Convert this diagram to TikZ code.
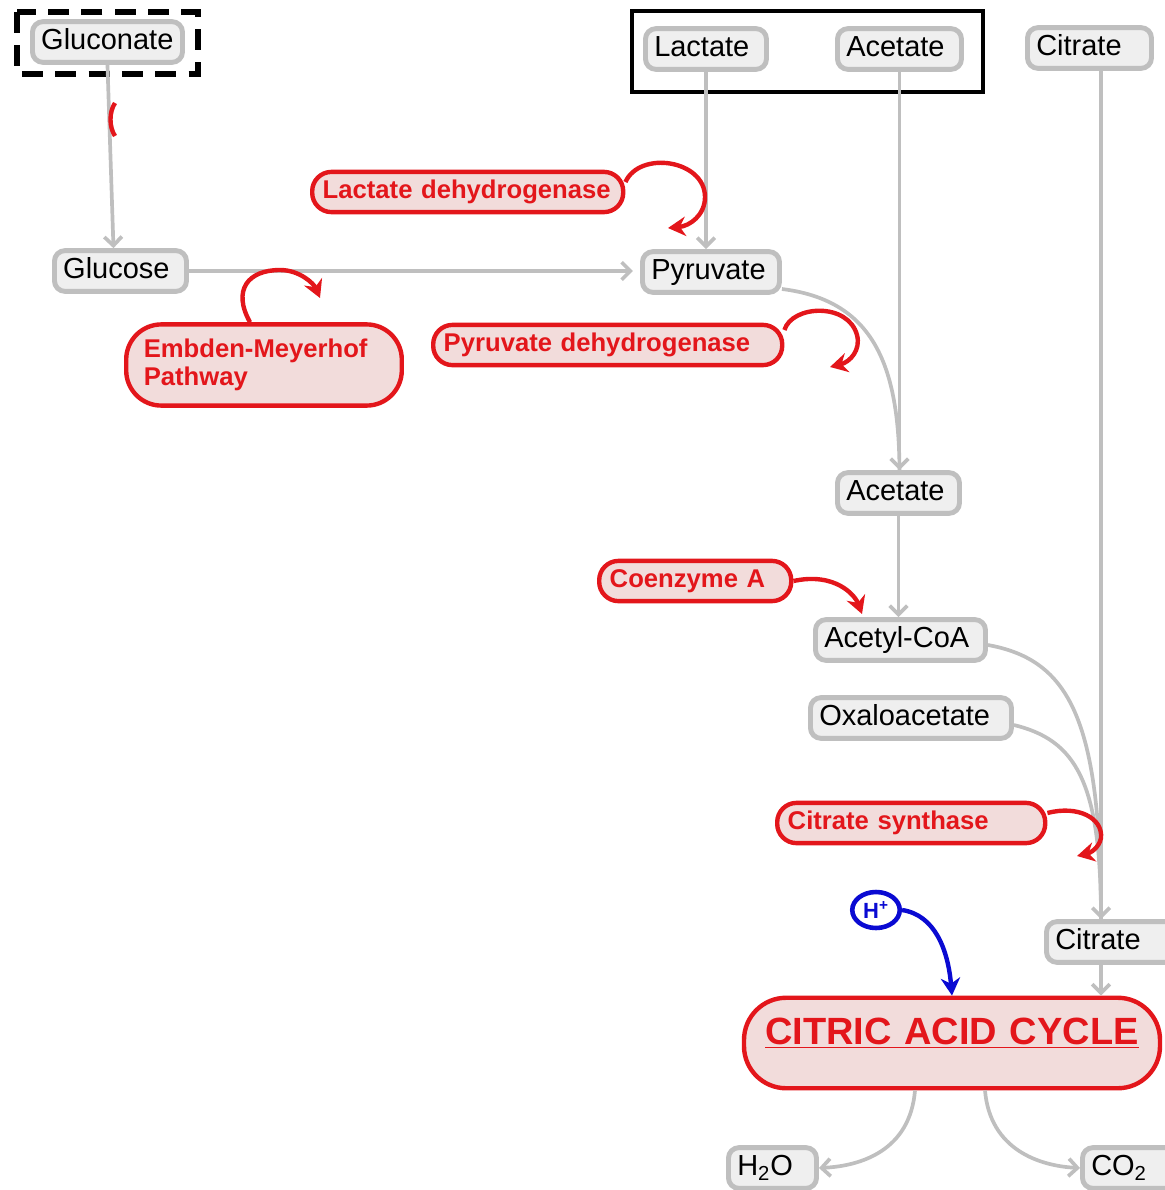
\documentclass[tikz,border=0pt]{standalone}
\usepackage{fontspec}
\setmainfont{Liberation Sans}
\usetikzlibrary{arrows.meta,positioning,shapes.geometric,calc}
\definecolor{flowgray}{HTML}{BFBFBF}
\definecolor{boxfill}{HTML}{EFEFEF}
\definecolor{ember}{HTML}{E3161B}
\definecolor{blush}{HTML}{F2DCDB}
\definecolor{royal}{HTML}{0A0AD2}

\tikzset{
  metab/.style={draw=flowgray, fill=boxfill, line width=2.8pt, rounded corners=6pt,
    align=left, inner xsep=5pt, inner ysep=3.6pt, text height=12.5pt, text depth=3.5pt,
    font=\fontsize{16.5}{19}\selectfont, anchor=west},
  enzyme/.style={draw=ember, fill=blush, line width=2.5pt, rounded corners=11pt,
    align=left, inner xsep=6pt, inner ysep=4.2pt, text height=11pt, text depth=3.5pt,
    text=ember, font=\fontsize{14.6}{15.5}\selectfont\bfseries, anchor=west},
  flowline/.style={draw=flowgray, line width=2.1pt},
  flow/.style={flowline, -{Straight Barb[length=5pt,width=10pt]}},
  hook/.style={draw=ember, line width=2.5pt, -{Stealth[length=10pt,width=11pt]}},
}

\begin{document}
\begin{tikzpicture}[x=0.02cm,y=-0.02cm]
  \useasboundingbox (0,0) rectangle (1164,1190);

  % metabolites
  \node[metab, text width=2.65cm] (glcn) at (30,42) {Gluconate};
  \node[metab, text width=2.07cm] (lac) at (643,49) {Lactate};
  \node[metab, text width=2.13cm] (ac1) at (835,49) {Acetate};
  \node[metab, text width=2.13cm] (cit1) at (1025,48) {Citrate};
  \node[metab, text width=2.29cm] (glc) at (52,271) {Glucose};
  \node[metab, text width=2.39cm] (pyr) at (640,272) {Pyruvate};
  \node[metab, text width=2.09cm] (ac2) at (835,493) {Acetate};
  \node[metab, text width=3.05cm] (acoa) at (813,640) {Acetyl-CoA};
  \node[metab, text width=3.67cm] (oaa) at (808,718) {Oxaloacetate};
  \node[metab, text width=2.3cm] (cit2) at (1044,942) {Citrate};
  \node[metab, text width=1.41cm] (water) at (726,1168) {H\textsubscript{2}O};
  \node[metab, text width=1.5cm] (co2) at (1080,1168) {CO\textsubscript{2}};

  % frames
  \draw[line width=2.9pt, dash pattern=on 12pt off 7pt] (17,12) rectangle (198,74);
  \draw[line width=2.5pt] (632,11) rectangle (983,92);

  % enzymes
  \node[enzyme, text width=5.8cm] (ldh) at (310,192) {Lactate dehydrogenase};
  \node[enzyme, text width=4.81cm, inner xsep=10pt, inner ysep=8.1pt, text depth=19pt,
    rounded corners=20pt] (emp) at (124,365) {Embden-Meyerhof\\Pathway};
  \node[enzyme, text width=6.56cm] (pdh) at (431,345) {Pyruvate dehydrogenase};
  \node[enzyme, text width=3.42cm] (coa) at (597,581) {Coenzyme A};
  \node[enzyme, text width=4.94cm] (cs) at (775,823) {Citrate synthase};
  \node[enzyme, anchor=center, text width=7.9cm, align=center, rounded corners=24pt,
    inner ysep=4pt, text height=22.6pt, text depth=20.9pt,
    font=\fontsize{21.6}{24}\selectfont\bfseries] (tca) at (952,1043)
    {\underline{CITRIC ACID CYCLE}};
  \node[draw=royal, fill=white, line width=2.6pt, ellipse, minimum width=0.95cm,
    minimum height=0.72cm, inner sep=0pt, text=royal,
    font=\fontsize{12.5}{12.5}\selectfont\bfseries] (hplus) at (876,910) {H\textsuperscript{+}};

  \coordinate (trunk) at (1101,0);
  \coordinate (ldhtip) at (668,228);
  \coordinate (emptip) at (320,298);
  \coordinate (pdhtip) at (830,367);
  \coordinate (coatip) at (862,614);
  \coordinate (cstip) at (1077,856);

  % grey flow
  \draw[flow] (glcn.south) -- ($(glc.north)+(-7,0)$);
  \draw[flow, shorten >=4pt] (glc.east) -- (glc.east -| pyr.west);
  \draw[flow] (lac.south) -- (lac.south |- pyr.north);
  \draw[flow] (ac1.south) -- (ac1.south |- ac2.north);
  \draw[flowline] ([yshift=-0.34cm]pyr.east) .. controls (870,300) and (899,360) .. (ac1.south |- ac2.north);
  \draw[flow] (ac2.south) -- (ac2.south |- acoa.north);
  \draw[flow] (cit1.south -| trunk) -- (cit2.north -| trunk);
  \draw[flowline] ([yshift=-0.1cm]acoa.east) .. controls (1070,660) and (1101,720) .. (cit2.north -| trunk);
  \draw[flowline] ([yshift=-0.14cm]oaa.east) .. controls (1075,740) and (1101,780) .. (cit2.north -| trunk);
  \draw[flow] (cit2.south -| trunk) -- (tca.north -| trunk);
  \draw[flow] ($(tca.south)+(-37,0)$) .. controls (910,1150) and (862,1166) .. (water.east);
  \draw[flow] ($(tca.south)+(33,0)$) .. controls (990,1150) and (1040,1166) .. (co2.west);

  % red hooks
  \draw[ember, line width=2.5pt] (115,103) .. controls (109,112) and (109,127) .. (115,136);
  \draw[hook] ([yshift=0.2cm]ldh.east) .. controls (640,150) and (705,160) .. (705,197)
    .. controls (705,215) and (690,226) .. (ldhtip);
  \draw[hook] ([xshift=-0.28cm]emp.north) .. controls (232,290) and (248,270) .. (280,270)
    .. controls (300,270) and (314,284) .. (emptip);
  \draw[hook] ([yshift=0.3cm]pdh.east) .. controls (792,305) and (848,302) .. (857,335)
    .. controls (861,350) and (850,362) .. (pdhtip);
  \draw[hook] (coa.east) .. controls (835,572) and (855,595) .. (coatip);
  \draw[hook] ([yshift=0.2cm]cs.east) .. controls (1078,805) and (1103,818) .. (1101,838)
    .. controls (1099,848) and (1090,853) .. (cstip);
  \draw[royal, line width=2.5pt, -{Stealth[length=10pt,width=11pt]}] (hplus.east)
    .. controls (935,915) and (948,950) .. (tca.north);
\end{tikzpicture}
\end{document}
